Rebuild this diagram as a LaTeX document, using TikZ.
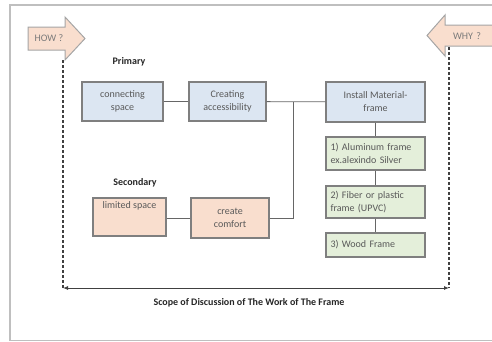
\documentclass[tikz,border=0pt]{standalone}
\usepackage{fontspec}
\setmainfont{Carlito}
\usetikzlibrary{arrows.meta}
\definecolor{boxline}{HTML}{7F7F7F}
\definecolor{bluefill}{HTML}{DCE6F2}
\definecolor{greenfill}{HTML}{E4EFDA}
\definecolor{peachfill}{HTML}{F9DECE}
\definecolor{txtgray}{HTML}{595959}
\definecolor{darkline}{HTML}{404040}
\definecolor{frameline}{HTML}{BFBFBF}
\tikzset{
  basebox/.style={draw=boxline, line width=1.1pt, rectangle, inner sep=2pt, text=txtgray, font=\fontsize{10}{13}\selectfont, align=center},
  bluebox/.style={basebox, fill=bluefill},
  greenbox/.style={basebox, fill=greenfill, align=left, text width=90pt, minimum width=99pt},
  peachbox/.style={basebox, fill=peachfill},
  conn/.style={draw=darkline!80, line width=0.8pt},
  dashline/.style={draw=darkline, line width=1.5pt, dash pattern=on 3pt off 2pt},
  bigarrow/.style={draw=boxline!70, line width=1pt, fill=peachfill},
  heading/.style={font=\bfseries\fontsize{10}{12}\selectfont, text=black!85},
}
\begin{document}
\begin{tikzpicture}[x=1pt,y=-1pt]
\useasboundingbox (0,0) rectangle (492,341);
% outer frame
\draw[frameline, line width=1.3pt] (10,341) -- (10,5) -- (495,5);
\draw[frameline, line width=1pt] (10,340) -- (495,340);
% big arrows
\draw[bigarrow] (28,27) -- (65,27) -- (65,17) -- (85,38.5) -- (65,60) -- (65,50) -- (28,50) -- cycle;
\node[text=txtgray!80, font=\fontsize{10}{12}\selectfont] (how) at (49,38.5) {HOW ?};
\draw[bigarrow] (500,25) -- (445,25) -- (445,15) -- (427,35.5) -- (445,56) -- (445,46) -- (500,46);
\node[text=txtgray!80, font=\fontsize{10}{12}\selectfont] (why) at (467,36) {WHY\,\,?};
% dashed verticals and scope arrow
\coordinate (hl) at (63,60);
\coordinate (hb) at (63,288);
\coordinate (wt) at (449,47);
\coordinate (wb) at (449,288);
\draw[dashline] (hl) -- (hb);
\draw[dashline] (wt) -- (wb);
\draw[darkline, line width=0.9pt, {Latex[length=5pt,width=4pt]}-{Latex[length=5pt,width=4pt]}] (hb) -- (wb);
\node[heading] (scope) at (249,303) {Scope of Discussion of The Work of The Frame};
% headings
\node[heading] (prim) at (129,62) {Primary};
\node[heading] (sec) at (135,183) {Secondary};
% primary boxes
\node[bluebox, minimum width=81pt, minimum height=39pt] (cs) at (122.5,101.5) {connecting\\space};
\node[bluebox, minimum width=77pt, minimum height=39pt] (ca) at (227.5,101.5) {Creating\\accessibility};
\node[bluebox, minimum width=99pt, minimum height=40pt] (im) at (375.5,102) {Install Material-\\frame};
% green boxes
\node[greenbox, minimum height=33pt] (g1) at (375.5,153.5) {1) Aluminum frame\\ex.alexindo Silver};
\node[greenbox, minimum height=32pt] (g2) at (375.5,202) {2) Fiber or plastic\\frame (UPVC)};
\node[greenbox, minimum height=24pt] (g3) at (375.5,245) {3) Wood Frame};
% secondary boxes
\node[peachbox, minimum width=73pt, text height=8pt, text depth=25pt, inner ysep=2.5pt] (ls) at (129.5,217) {limited space};
\node[peachbox, minimum width=78pt, minimum height=40pt] (cc) at (230,218) {create\\comfort};
% connectors
\coordinate (j) at (293,101.5);
\draw[conn] (cs) -- (ca);
\draw[conn] (ca) -- (im);
\draw[conn] (cc.east) -| (j);
\draw[conn] (ls.east |- cc.east) -- (cc.west);
\draw[conn] (im) -- (g1);
\draw[conn] (g1) -- (g2);
\draw[conn] (g2) -- (g3);
\end{tikzpicture}
\end{document}
